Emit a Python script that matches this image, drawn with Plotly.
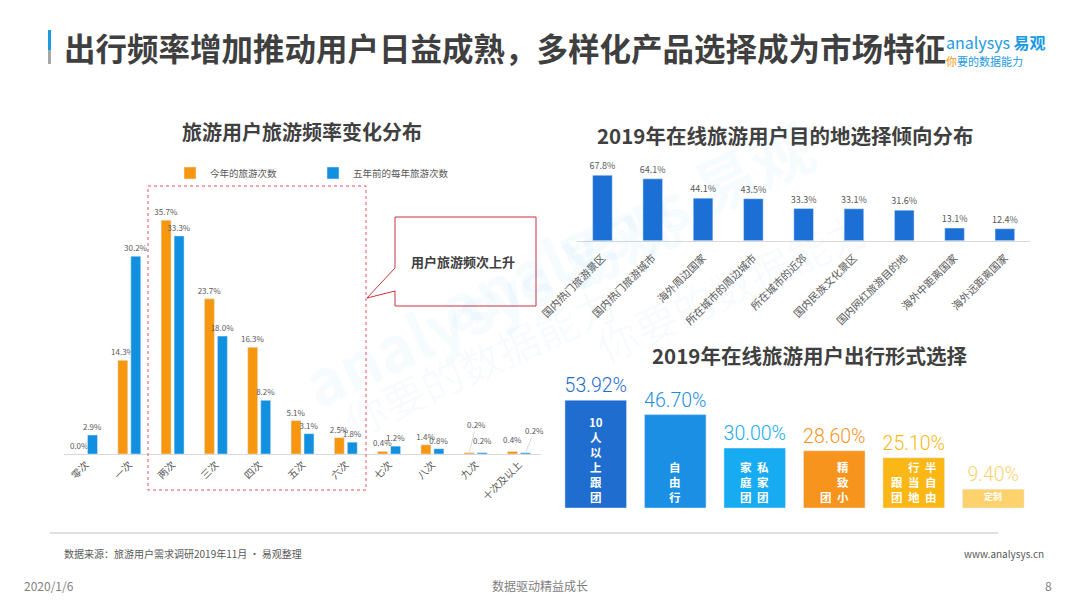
import re
import plotly.graph_objects as go

W, H = 1080, 608
FONT = "Noto Sans CJK SC, Noto Sans, sans-serif"
LIGHT = "Roboto, Open Sans, sans-serif"

# left chart: travel frequency, this year vs five years ago (%)
FREQ_CATEGORIES = ["零次", "一次", "两次", "三次", "四次", "五次", "六次", "七次", "八次", "九次", "十次及以上"]
FREQ_THIS_YEAR = [0.0, 14.3, 35.7, 23.7, 16.3, 5.1, 2.5, 0.4, 1.4, 0.2, 0.4]
FREQ_FIVE_YEARS_AGO = [2.9, 30.2, 33.3, 18.0, 8.2, 3.1, 1.8, 1.2, 0.8, 0.2, 0.2]
FREQ_SERIES = ["今年的旅游次数", "五年前的每年旅游次数"]

# top right: destination preference (%)
DEST_CATEGORIES = ["国内热门旅游景区", "国内热门旅游城市", "海外周边国家", "所在城市的周边城市",
                   "所在城市的近郊", "国内民族文化景区", "国内网红旅游目的地", "海外中距离国家", "海外远距离国家"]
DEST_VALUES = [67.8, 64.1, 44.1, 43.5, 33.3, 33.1, 31.6, 13.1, 12.4]

# bottom right: travel form (%)
FORM_CATEGORIES = ["10人以上跟团", "自由行", "私家团 家庭团", "精致小团", "半自由行 当地跟团", "定制"]
FORM_VALUES = [53.92, 46.70, 30.00, 28.60, 25.10, 9.40]
# text inside each bar, columns read right to left
FORM_INNER_COLS = [["10人以上跟团"], ["自由行"], ["私家团", "家庭团"], ["精致小", "团"], ["半自由", "行当地", "跟团"], ["定制"]]
FORM_INNER_VERTICAL = [True, True, True, True, True, False]

ORANGE = "#f7960f"
BLUE = "#1190e0"
DEST_BLUE = "#1b6fd5"
FORM_COLORS = ["#1f6dcf", "#1a8fe3", "#17abf2", "#f7941d", "#fbb715", "#fdd26c"]
GRAY_TEXT = "#595959"
DARK_TEXT = "#404040"


def px_x(p):
    return p / W


def px_y(p):
    return 1 - p / H


# labels of tiny bars that sit on leader lines: (series, category) -> (ax, ay)
LEADER_LABELS = {(0, 9): (7, -28), (1, 9): (0, -12), (0, 10): (0, -12), (1, 10): (9, -22)}

fig = go.Figure()

bar_width = 0.23
offsets = [-0.265, 0.035]
for s, (name, vals, col) in enumerate(zip(FREQ_SERIES, [FREQ_THIS_YEAR, FREQ_FIVE_YEARS_AGO], [ORANGE, BLUE])):
    texts = ["" if (s, i) in LEADER_LABELS else f"{v:.1f}%" for i, v in enumerate(vals)]
    fig.add_bar(
        x=FREQ_CATEGORIES, y=vals, name=name, marker_color=col,
        width=bar_width, offset=offsets[s], xaxis="x", yaxis="y",
        text=texts, textposition="outside", constraintext="none", cliponaxis=False,
        textfont=dict(size=8, color=GRAY_TEXT, family=FONT), hoverinfo="x+y",
    )
    for (ss, i), (ax, ay) in LEADER_LABELS.items():
        if ss != s:
            continue
        fig.add_annotation(
            x=i + offsets[s] + bar_width / 2, y=vals[i], xref="x", yref="y",
            text=f"{vals[i]:.1f}%", showarrow=True, arrowhead=0, arrowwidth=0.6,
            arrowcolor="#bfbfbf" if abs(ay) > 15 else "rgba(0,0,0,0)", ax=ax, ay=ay, standoff=1,
            font=dict(size=8, color=GRAY_TEXT, family=FONT),
        )

fig.add_bar(
    x=DEST_CATEGORIES, y=DEST_VALUES, marker_color=DEST_BLUE, width=0.39,
    xaxis="x2", yaxis="y2", showlegend=False,
    text=[f"{v:.1f}%" for v in DEST_VALUES], textposition="outside",
    constraintext="none", cliponaxis=False,
    textfont=dict(size=9, color=GRAY_TEXT, family=FONT),
)

fig.add_bar(
    x=FORM_CATEGORIES, y=FORM_VALUES, marker_color=FORM_COLORS, width=0.775,
    xaxis="x3", yaxis="y3", showlegend=False,
    text=[f"{v:.2f}%" for v in FORM_VALUES], textposition="outside",
    constraintext="none", cliponaxis=False,
    textfont=dict(size=19.5, color=FORM_COLORS, family=LIGHT, weight=300),
)

# vertical text inside the travel-form bars, one stacked annotation per column
for cat, cols, vertical in zip(FORM_CATEGORIES, FORM_INNER_COLS, FORM_INNER_VERTICAL):
    if not vertical:
        fig.add_annotation(x=cat, y=0, xref="x3", yref="y3", yanchor="bottom", yshift=3,
                           text=f"<b>{cols[0]}</b>", showarrow=False,
                           font=dict(size=9, color="white", family=FONT))
        continue
    n = len(cols)
    for j, col_text in enumerate(cols):
        k = n - 1 - j  # left-to-right index
        tokens = re.findall(r"\d+|.", col_text)
        fig.add_annotation(
            x=cat, y=0, xref="x3", yref="y3", yanchor="bottom",
            xshift=(k - (n - 1) / 2) * 17, yshift=1,
            text="<br>".join(f"<b>{t}</b>" for t in tokens), showarrow=False,
            font=dict(size=11.5, color="white", family=FONT),
        )

# titles and page texts
page_texts = [
    (62, 47, "left", "<b>出行频率增加推动用户日益成熟，多样化产品选择成为市场特征</b>", 31.5, "#3f3f3f"),
    (302, 132, "center", "<b>旅游用户旅游频率变化分布</b>", 20, DARK_TEXT),
    (785, 135, "center", "<b>2019年在线旅游用户目的地选择倾向分布</b>", 20.5, DARK_TEXT),
    (809, 355, "center", "<b>2019年在线旅游用户出行形式选择</b>", 20.5, DARK_TEXT),
    (463, 261, "center", "<b>用户旅游频次上升</b>", 13, DARK_TEXT),
    (62, 553, "left", "数据来源：旅游用户需求调研2019年11月 · 易观整理", 10, GRAY_TEXT),
    (1046, 553, "right", "www.analysys.cn", 10, GRAY_TEXT),
    (22, 585, "left", "2020/1/6", 12, "#7f7f7f"),
    (540, 585, "center", "数据驱动精益成长", 12, "#7f7f7f"),
    (1054, 585, "right", "8", 12, "#7f7f7f"),
    (944, 42, "left", "analysys <b>易观</b>", 16, "#1a9be0"),
    (944, 61, "left", "<span style='color:#f39800'>你</span>要的数据能力", 11, "#1a9be0"),
]
for x, y, anchor, text, size, color in page_texts:
    fig.add_annotation(x=px_x(x), y=px_y(y), xref="paper", yref="paper", xanchor=anchor,
                       yanchor="middle", text=text, showarrow=False,
                       font=dict(size=size, color=color, family=FONT))

# faint watermark
for x, y, text, size in [(285, 300, "<b>analysys 易观</b>", 62), (330, 360, "你要的数据能力", 42),
                         (830, 225, "<b>analysys 易观</b>", 62), (880, 285, "你要的数据能力", 42)]:
    fig.add_annotation(x=px_x(x), y=px_y(y), xref="paper", yref="paper", text=text,
                       showarrow=False, textangle=-25,
                       font=dict(size=size, color="rgba(27,154,224,0.04)", family=FONT))

P = dict(xref="paper", yref="paper")
shapes = [
    # header accent bar
    dict(type="rect", x0=px_x(48), x1=px_x(51), y0=px_y(30), y1=px_y(50), fillcolor="#1a9be0", line_width=0, **P),
    dict(type="rect", x0=px_x(48), x1=px_x(51), y0=px_y(50), y1=px_y(64), fillcolor="#a6a6a6", line_width=0, **P),
    # dashed highlight box
    dict(type="rect", x0=px_x(148), x1=px_x(366), y0=px_y(186), y1=px_y(490),
         line=dict(color="#e8505b", width=1, dash="dot"), **P),
    # callout
    dict(type="path",
         path=(f"M {px_x(395)} {px_y(217)} L {px_x(536)} {px_y(217)} L {px_x(536)} {px_y(306)} "
               f"L {px_x(395)} {px_y(306)} L {px_x(395)} {px_y(291)} L {px_x(367)} {px_y(298)} "
               f"L {px_x(395)} {px_y(268)} Z"),
         line=dict(color="#c9303e", width=1), fillcolor="white", layer="below", **P),
    # footer rule
    dict(type="line", x0=px_x(50), x1=px_x(998), y0=px_y(533), y1=px_y(533),
         line=dict(color="#bfbfbf", width=1), **P),
]

axis_common = dict(automargin=False, showgrid=False, zeroline=False)
fig.update_layout(
    width=W, height=H, margin=dict(l=0, r=0, t=0, b=0, autoexpand=False),
    paper_bgcolor="white", plot_bgcolor="rgba(0,0,0,0)",
    font=dict(family=FONT, color=GRAY_TEXT),
    barmode="overlay", shapes=shapes,
    legend=dict(orientation="h", x=px_x(170), y=px_y(173), xanchor="left", yanchor="middle",
                font=dict(size=9.5, color=GRAY_TEXT), entrywidth=98, entrywidthmode="pixels",
                bgcolor="rgba(0,0,0,0)"),
    xaxis=dict(domain=[px_x(64.35), px_x(540.65)], anchor="y", type="category",
               range=[-0.5, 10.5], tickangle=-45, tickfont=dict(size=10, color=GRAY_TEXT),
               showline=True, linecolor="#d9d9d9", ticks="", **axis_common),
    yaxis=dict(domain=[px_y(454), px_y(192)], anchor="x", range=[0, 40], visible=False, **axis_common),
    xaxis2=dict(domain=[px_x(577.3), px_x(1030)], anchor="y2", type="category",
                range=[-0.5, 8.5], tickangle=-45, tickfont=dict(size=10.5, color=GRAY_TEXT),
                ticklabelstandoff=6,
                showline=True, linecolor="#d9d9d9", ticks="", **axis_common),
    yaxis2=dict(domain=[px_y(240.7), px_y(168.3)], anchor="x2", range=[0, 75], visible=False, **axis_common),
    xaxis3=dict(domain=[px_x(556), px_x(1033)], anchor="y3", type="category",
                range=[-0.5, 5.5], showticklabels=False, showline=False, ticks="", **axis_common),
    yaxis3=dict(domain=[px_y(508), px_y(388)], anchor="x3", range=[0, 60], visible=False, **axis_common),
)

# the page body has a default 8px margin; drop it so the figure sits at the window origin
fig.write_html("out.html", config={"displayModeBar": False},
               post_script="document.body.style.margin = '0px';")
